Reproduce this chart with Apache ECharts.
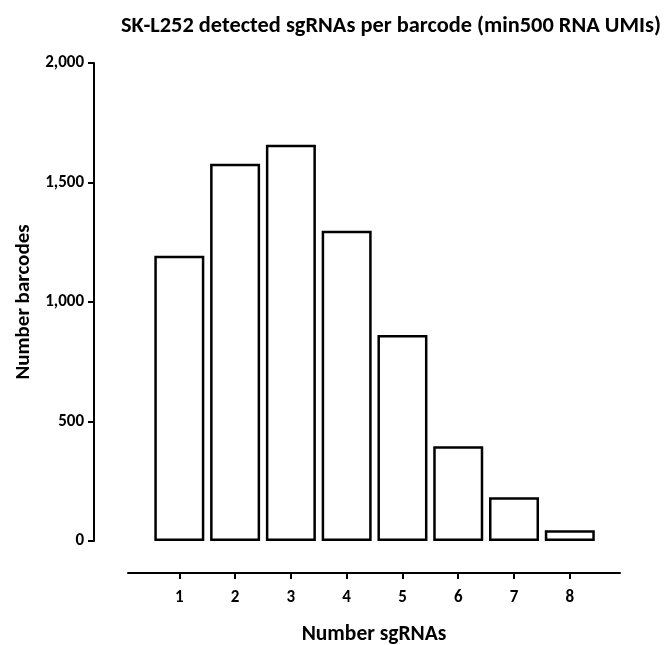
<!DOCTYPE html>
<html><head><meta charset="utf-8">
<script src="https://cdn.jsdelivr.net/npm/echarts@6/dist/echarts.min.js"></script>
<style>html,body{margin:0;padding:0;background:#fff}#c{width:667px;height:645px}</style>
</head><body><div id="c"></div>
<script>
const categories = [1, 2, 3, 4, 5, 6, 7, 8];
const barcodes = [1194, 1578, 1658, 1298, 862, 396, 183, 45];
const yTicks = [0, 500, 1000, 1500, 2000];

const FONT = 'Carlito, "Open Sans", sans-serif';
const chart = echarts.init(document.getElementById('c'), null, {renderer: 'canvas'});
chart.setOption({
  animation: false,
  backgroundColor: '#fff',
  title: {
    text: 'SK-L252 detected sgRNAs per barcode (min500 RNA UMIs)',
    left: 116, top: 10,
    textStyle: {fontFamily: FONT, fontWeight: 'bold', fontSize: 22.4, color: '#000'}
  },
  grid: {left: 128, right: 47, top: 63, bottom: 104, containLabel: false, outerBoundsMode: 'none'},
  xAxis: {
    type: 'value', min: 0.08, max: 8.9,
    offset: 32,
    name: 'Number sgRNAs', nameLocation: 'middle', nameGap: 51,
    nameTextStyle: {fontFamily: FONT, fontWeight: 'bold', fontSize: 21.5, color: '#000'},
    axisLine: {show: true, onZero: false, lineStyle: {color: '#000', width: 2}},
    axisTick: {show: true, customValues: categories, length: 6, inside: false, lineStyle: {color: '#000', width: 2}},
    axisLabel: {customValues: categories, margin: 16, fontFamily: FONT, fontWeight: 'bold', fontSize: 17, color: '#000'},
    splitLine: {show: false}
  },
  yAxis: {
    type: 'value', min: 0, max: 2000, interval: 500,
    offset: 34,
    name: 'Number barcodes', nameLocation: 'middle', nameGap: 60, nameRotate: 90,
    nameTextStyle: {fontFamily: FONT, fontWeight: 'bold', fontSize: 21, color: '#000'},
    axisLine: {show: true, lineStyle: {color: '#000', width: 2}},
    axisTick: {show: true, length: 6, lineStyle: {color: '#000', width: 2}},
    axisLabel: {margin: 10, fontFamily: FONT, fontWeight: 'bold', fontSize: 17, color: '#000',
      customValues: yTicks,
      formatter: v => v.toLocaleString('en-US')},
    splitLine: {show: false}
  },
  series: [{
    type: 'bar',
    data: categories.map((c, i) => [c, barcodes[i]]),
    barWidth: 50,
    itemStyle: {color: '#fff', borderColor: '#000', borderWidth: 2.5}
  }]
});
</script></body></html>
